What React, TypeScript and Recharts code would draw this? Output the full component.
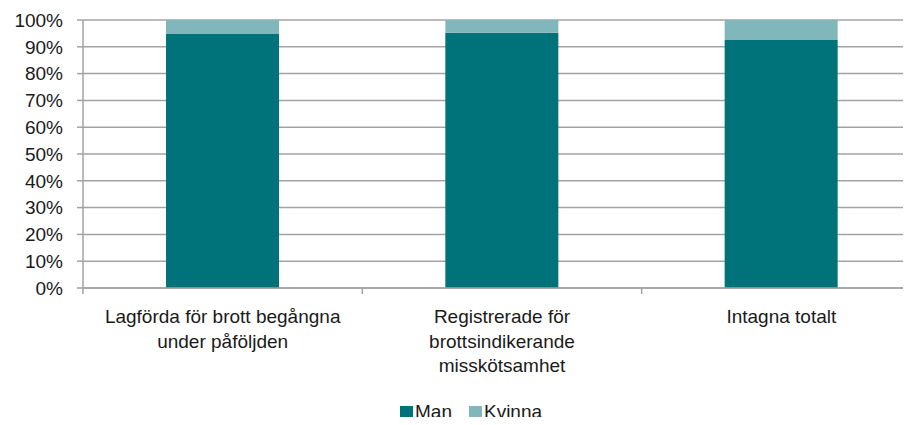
import { BarChart, Bar, XAxis, YAxis, CartesianGrid, Legend } from "recharts";

const categories = [
  "Lagförda för brott begångna\nunder påföljden",
  "Registrerade för\nbrottsindikerande\nmisskötsamhet",
  "Intagna totalt",
];
const manValues = [95.0, 95.25, 92.5];
const kvinnaValues = [5.0, 4.75, 7.5];
const yTicks = [0, 10, 20, 30, 40, 50, 60, 70, 80, 90, 100];

const data = categories.map((name, i) => ({ name, man: manValues[i], kvinna: kvinnaValues[i] }));

const FONT = '"Liberation Sans", Arial, Helvetica, sans-serif';
const MAN = "#00737a";
const KVINNA = "#7fb7ba";
const GRID = "#a3a3a3";
const TEXT = "#1a1a1a";
const FONT_SIZE = 19;
const TICK_SIZE = 6;
const TICK_MARGIN = 16;

const CategoryTick = (props: any) => {
  const { x, y, payload, index } = props;
  const half = payload.offset ?? 139.5;
  const axisY = y - TICK_MARGIN;
  const lines = String(payload.value).split("\n");
  return (
    <g>
      <line x1={x - half} x2={x - half} y1={axisY - TICK_SIZE} y2={axisY} stroke={GRID} strokeWidth={1.5} />
      {index === categories.length - 1 && (
        <line x1={x + half} x2={x + half} y1={axisY - TICK_SIZE} y2={axisY} stroke={GRID} strokeWidth={1.5} />
      )}
      <text x={x} y={y} textAnchor="middle" fontSize={FONT_SIZE} fill={TEXT} fontFamily={FONT}>
        {lines.map((l, i) => (
          <tspan key={i} x={x} dy={i === 0 ? "0.71em" : 24.5}>
            {l}
          </tspan>
        ))}
      </text>
    </g>
  );
};

const LegendContent = () => (
  <div style={{ display: "flex", alignItems: "center", fontFamily: FONT, fontSize: FONT_SIZE, color: TEXT }}>
    {[
      { label: "Man", color: MAN },
      { label: "Kvinna", color: KVINNA },
    ].map((item) => (
      <span key={item.label} style={{ display: "flex", alignItems: "center", marginRight: 17 }}>
        <span style={{ width: 13, height: 13, background: item.color, display: "inline-block", marginRight: 2 }} />
        {item.label}
      </span>
    ))}
  </div>
);

export default function App() {
  return (
    <div style={{ position: "relative", width: 911, height: 425, overflow: "hidden", margin: -8, background: "#fff" }}>
      <BarChart
        width={921}
        height={425}
        data={data}
        margin={{ top: 20, right: 0, bottom: 20, left: 0 }}
        barSize={113}
      >
        <CartesianGrid vertical={false} stroke={GRID} strokeWidth={1.5} />
        <XAxis
          dataKey="name"
          height={95}
          tickLine={false}
          axisLine={{ stroke: GRID, strokeWidth: 1.5 }}
          tickMargin={TICK_MARGIN}
          tick={<CategoryTick />}
          interval={0}
        />
        <YAxis
          width={83}
          domain={[0, 100]}
          ticks={yTicks}
          interval={0}
          tickFormatter={(v) => `${v}%`}
          axisLine={{ stroke: GRID, strokeWidth: 1.5 }}
          tickLine={{ stroke: GRID, strokeWidth: 1.5 }}
          tickSize={TICK_SIZE}
          tickMargin={14}
          tick={{ fontSize: FONT_SIZE, fill: TEXT, fontFamily: FONT }}
        />
        <Legend
          content={<LegendContent />}
          wrapperStyle={{ left: 400, top: 401, width: 220, height: 22 }}
        />
        <Bar dataKey="man" name="Man" stackId="a" fill={MAN} isAnimationActive={false} />
        <Bar dataKey="kvinna" name="Kvinna" stackId="a" fill={KVINNA} isAnimationActive={false} />
      </BarChart>
    </div>
  );
}
